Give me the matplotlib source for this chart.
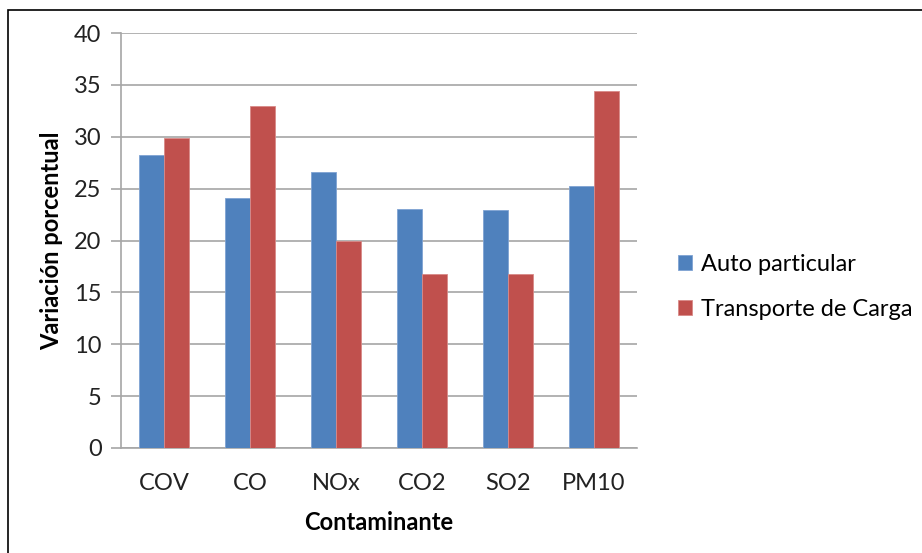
import matplotlib
matplotlib.use('agg')
import matplotlib.pyplot as plt
import numpy as np
from matplotlib.patches import Rectangle

categories = ['COV', 'CO', 'NOx', 'CO2', 'SO2', 'PM10']
auto_particular = [28.2, 24.1, 26.6, 23.0, 22.9, 25.3]
transporte_carga = [29.9, 33.0, 20.0, 16.8, 16.8, 34.4]
series_names = ['Auto particular', 'Transporte de Carga']
y_ticks = [0, 5, 10, 15, 20, 25, 30, 35, 40]

blue = '#4F81BD'
red = '#C0504D'
grid_gray = '#A6A6A6'

plt.rcParams['font.family'] = ['Lato', 'DejaVu Sans']

fig = plt.figure(figsize=(9.22, 5.53), dpi=100)
ax = fig.add_axes([121 / 922, 1 - 448 / 553, 516 / 922, 415 / 553])

x = np.arange(len(categories))
width = 0.29
ax.bar(x - width / 2, auto_particular, width, color=blue, edgecolor='#7FA3D3',
       linewidth=0.6, label=series_names[0], zorder=3)
ax.bar(x + width / 2, transporte_carga, width, color=red, edgecolor='#D98A88',
       linewidth=0.6, label=series_names[1], zorder=3)

ax.set_xlim(-0.5, len(categories) - 0.5)
ax.set_ylim(0, 40)
ax.set_yticks(y_ticks)
ax.set_xticks(x)
ax.set_xticklabels(categories)

ax.yaxis.grid(True, color=grid_gray, linewidth=1.2, zorder=0)
for side in ['top', 'right']:
    ax.spines[side].set_visible(False)
ax.spines['left'].set_color(grid_gray)
ax.spines['bottom'].set_color(grid_gray)
ax.spines['left'].set_linewidth(1.2)
ax.spines['bottom'].set_linewidth(1.2)
ax.tick_params(axis='y', length=7, width=1.2, color=grid_gray, labelsize=17,
               labelcolor='#222222', pad=7)
ax.tick_params(axis='x', length=0, labelsize=17, labelcolor='#222222', pad=18)

ax.set_ylabel('Variación porcentual', fontsize=17, fontweight='bold', labelpad=8)
ax.set_xlabel('Contaminante', fontsize=17, fontweight='bold', labelpad=12)

fig.legend(loc='center left', bbox_to_anchor=(657 / 922, 1 - 287 / 553),
           frameon=False, fontsize=17, handlelength=0.6, handleheight=0.6,
           handletextpad=0.35, labelspacing=1.0)

# chart frame (cropped at right and bottom)
fig.patches.append(Rectangle((8 / 922, -0.1), 1.1, 1 - 10 / 553 + 0.1,
                             transform=fig.transFigure, fill=False,
                             edgecolor='black', linewidth=1.2))

plt.savefig('out.png', dpi=100)
